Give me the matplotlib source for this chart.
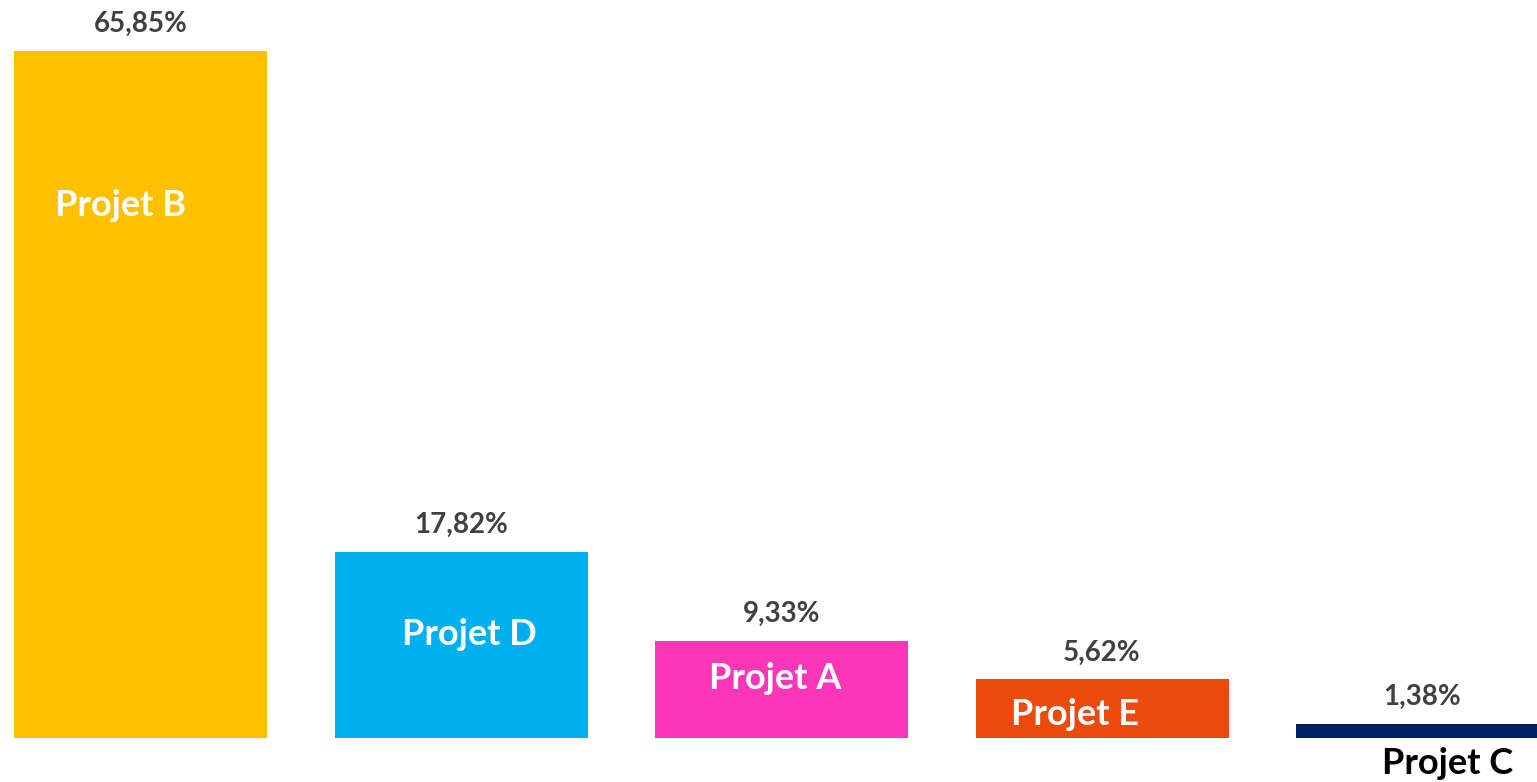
import matplotlib.pyplot as plt

# données
projets = ["Projet B", "Projet D", "Projet A", "Projet E", "Projet C"]
valeurs = [65.85, 17.82, 9.33, 5.62, 1.38]
etiquettes = ["65,85%", "17,82%", "9,33%", "5,62%", "1,38%"]
couleurs = ["#FFC000", "#00B0F0", "#FB36B8", "#EA4A0D", "#002060"]

# position des noms de projets (décalage en pixels depuis le haut de la barre)
dx_nom = [-20, 8, -6, -27, 25]
dy_nom = [-154, -82, -38, -35, None]

plt.rcParams['font.family'] = ['Lato', 'DejaVu Sans']

fig = plt.figure(figsize=(15.37, 7.82), dpi=100)
ax = fig.add_axes([0, 44 / 782, 1, 738 / 782])

x = list(range(len(projets)))
ax.bar(x, valeurs, width=253 / 320.5, color=couleurs)

xmin = -140.5 / 320.5
ax.set_xlim(xmin, xmin + 1537 / 320.5)
ax.set_ylim(0, 738 / (687 / 65.85))
ax.axis('off')

for i in x:
    ax.annotate(etiquettes[i], (i, valeurs[i]), xytext=(0, 27 * 0.72),
                textcoords='offset points', ha='center', va='center',
                fontsize=20, fontweight='bold', color='#404040')
    if dy_nom[i] is None:
        ax.annotate(projets[i], (i, 0), xytext=(dx_nom[i] * 0.72, -26 * 0.72),
                    textcoords='offset points', ha='center', va='center',
                    fontsize=26, fontweight='bold', color='black',
                    annotation_clip=False)
    else:
        ax.annotate(projets[i], (i, valeurs[i]),
                    xytext=(dx_nom[i] * 0.72, dy_nom[i] * 0.72),
                    textcoords='offset points', ha='center', va='center',
                    fontsize=26, fontweight='bold', color='white')

fig.savefig('out.png', dpi=100)
